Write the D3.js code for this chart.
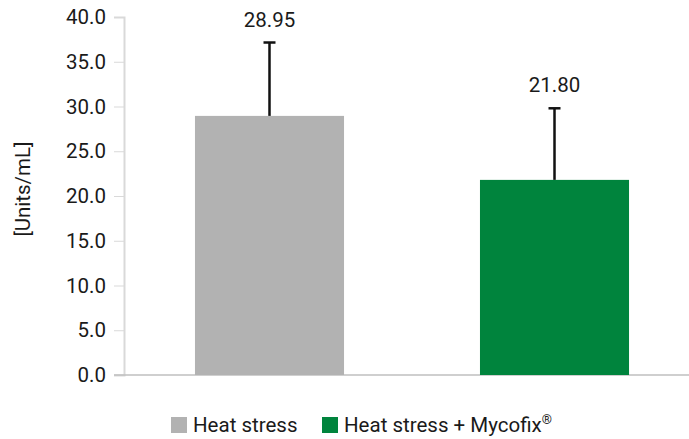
<!DOCTYPE html>
<html>
<head>
<meta charset="utf-8">
<script src="https://cdn.jsdelivr.net/npm/d3@7"></script>
<style>
  body { margin: 0; background: #fff; }
  text { font-family: Roboto, "Liberation Sans", sans-serif; fill: #1a1a1a; }
</style>
</head>
<body>
<div id="chart"></div>
<script>
// data
var groups = ["Heat stress", "Heat stress + Mycofix"];
var means = [28.95, 21.80];
var errors = [8.2, 8.0];
var colors = ["#b2b2b2", "#00843d"];
var yTicks = [0, 5, 10, 15, 20, 25, 30, 35, 40];

var width = 689, height = 439;
var margin = {top: 17, right: -11, bottom: 64, left: 124};

var svg = d3.select("#chart").append("svg")
    .attr("width", width)
    .attr("height", height);

var y = d3.scaleLinear()
    .domain([0, 40])
    .range([height - margin.bottom, margin.top]);

var x = d3.scaleBand()
    .domain(groups)
    .range([margin.left, width - margin.right])
    .paddingInner(0.477)
    .paddingOuter(0.249);

var axisX = 124;

// y axis
var yAxis = svg.append("g")
    .attr("transform", "translate(" + axisX + ",0)")
    .call(d3.axisLeft(y).tickValues(yTicks).tickSize(10).tickPadding(8)
        .tickFormat(d3.format(".1f")));
yAxis.select(".domain").attr("stroke", "#d9d9d9").attr("stroke-width", 2);
yAxis.selectAll(".tick line").attr("stroke", "#d9d9d9");
yAxis.selectAll(".tick text").attr("font-size", 20.5).style("fill", "#1a1a1a");

// x axis line
svg.append("line")
    .attr("x1", axisX - 10)
    .attr("x2", width)
    .attr("y1", y(0))
    .attr("y2", y(0))
    .attr("stroke", "#bfbfbf")
    .attr("stroke-width", 1.5);

// bars
svg.selectAll("rect.bar")
    .data(groups)
    .enter().append("rect")
    .attr("class", "bar")
    .attr("x", function(d) { return x(d); })
    .attr("width", x.bandwidth())
    .attr("y", function(d, i) { return y(means[i]); })
    .attr("height", function(d, i) { return y(0) - y(means[i]); })
    .attr("fill", function(d, i) { return colors[i]; });

// error bars (upper only)
var err = svg.selectAll("g.err")
    .data(groups)
    .enter().append("g")
    .attr("class", "err");

err.append("line")
    .attr("x1", function(d) { return x(d) + x.bandwidth() / 2; })
    .attr("x2", function(d) { return x(d) + x.bandwidth() / 2; })
    .attr("y1", function(d, i) { return y(means[i]); })
    .attr("y2", function(d, i) { return y(means[i] + errors[i]); })
    .attr("stroke", "#111")
    .attr("stroke-width", 2.5);

err.append("line")
    .attr("x1", function(d) { return x(d) + x.bandwidth() / 2 - 6; })
    .attr("x2", function(d) { return x(d) + x.bandwidth() / 2 + 6; })
    .attr("y1", function(d, i) { return y(means[i] + errors[i]); })
    .attr("y2", function(d, i) { return y(means[i] + errors[i]); })
    .attr("stroke", "#111")
    .attr("stroke-width", 2.5);

// value labels
svg.selectAll("text.val")
    .data(groups)
    .enter().append("text")
    .attr("class", "val")
    .attr("x", function(d) { return x(d) + x.bandwidth() / 2; })
    .attr("y", function(d, i) { return y(means[i] + errors[i]) - 16; })
    .attr("text-anchor", "middle")
    .attr("font-size", 20.5)
    .text(function(d, i) { return means[i].toFixed(2); });

// y title
svg.append("text")
    .attr("transform", "translate(30,189) rotate(-90)")
    .attr("text-anchor", "middle")
    .attr("font-size", 20.5)
    .text("[Units/mL]");

// legend
var legendX = [171, 322];
var legend = svg.selectAll("g.leg")
    .data(groups)
    .enter().append("g")
    .attr("class", "leg")
    .attr("transform", function(d, i) { return "translate(" + legendX[i] + ",417)"; });

legend.append("rect")
    .attr("width", 16)
    .attr("height", 16)
    .attr("fill", function(d, i) { return colors[i]; });

var legText = legend.append("text")
    .attr("x", 22)
    .attr("y", 15)
    .attr("font-size", 20.5)
    .text(function(d) { return d; });

// registered mark as superscript on the second entry
legText.filter(function(d, i) { return i === 1; })
    .append("tspan")
    .attr("font-size", 13)
    .attr("dy", -8)
    .text("®");
</script>
</body>
</html>
